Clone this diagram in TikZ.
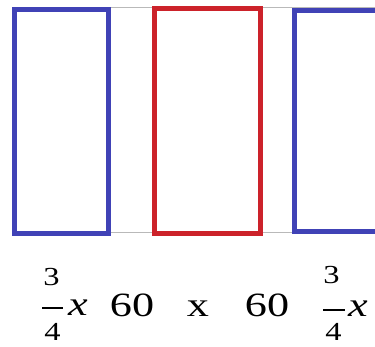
\documentclass[tikz,border=0pt]{standalone}
\usepackage{fontspec}
\setmainfont{Liberation Serif}
\newfontfamily\labelfont{Liberation Serif}
\usetikzlibrary{positioning}
\definecolor{boxblue}{RGB}{64,66,182}
\definecolor{boxred}{RGB}{204,34,42}

\begin{document}
\begin{tikzpicture}[x=1pt, y=-1pt,
  sidebox/.style={draw=boxblue, line width=5pt},
  midbox/.style={draw=boxred, line width=5pt},
  guide/.style={draw=gray!55, line width=0.8pt},
  big/.style={font=\labelfont\fontsize{34}{38}\selectfont, inner sep=0pt, anchor=base, xscale=1.3},
  small/.style={font=\labelfont\fontsize{26}{30}\selectfont, inner sep=0pt, anchor=base, xscale=1.25},
  var/.style={font=\labelfont\itshape\fontsize{34}{38}\selectfont, inner sep=0pt, anchor=base, xscale=1.3},
  bar/.style={line width=1.2pt}
]
\useasboundingbox (0,0) rectangle (375,346);
\begin{scope}
\clip (0,0) rectangle (375,346);
% thin guide lines behind the boxes
\draw[guide] (14,7) -- (375,7);
\draw[guide] (14,232) -- (375,232);
% the three boxes
\draw[sidebox, fill=white] (14,9) rectangle (108,233);
\draw[midbox, fill=white] (154.5,8.5) rectangle (260.5,233.5);
\draw[sidebox, fill=white] (294,10) rectangle (380,231);
\end{scope}

% labels
\node[small] (numL) at (51.5,285) {3};
\node[small] (denL) at (52.5,340) {4};
\draw[bar] (42,308) -- (63,308);
\node[var] (varL) at (78,315) {x};
\node[big] (sixtyL) at (132,316) {60};
\node[big] (times) at (198,316) {x};
\node[big] (sixtyR) at (267,316) {60};
\node[small] (numR) at (331.5,283) {3};
\node[small] (denR) at (333.5,340) {4};
\draw[bar] (323,310) -- (345,310);
\node[var] (varR) at (358,316) {x};
\end{tikzpicture}
\end{document}
